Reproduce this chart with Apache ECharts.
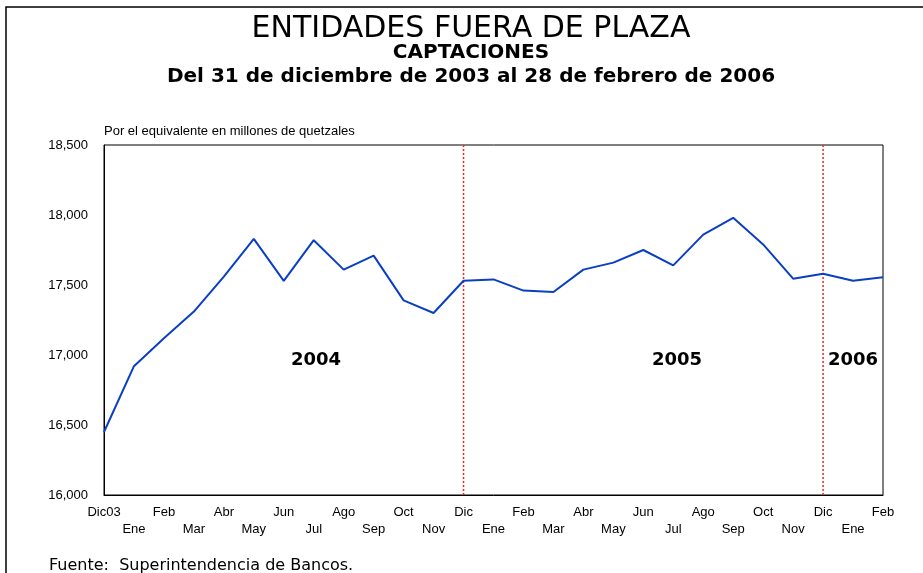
<!DOCTYPE html>
<html>
<head>
<meta charset="utf-8">
<script src="https://cdn.jsdelivr.net/npm/echarts@6/dist/echarts.min.js"></script>
<style>
  html, body { margin: 0; padding: 0; background: #fff; }
  #chart { width: 923px; height: 573px; }
</style>
</head>
<body>
<div id="chart"></div>
<script>
// meses, Dic03 .. Feb06
var meses = ["Dic03", "Ene", "Feb", "Mar", "Abr", "May", "Jun", "Jul", "Ago", "Sep", "Oct", "Nov",
  "Dic", "Ene", "Feb", "Mar", "Abr", "May", "Jun", "Jul", "Ago", "Sep", "Oct", "Nov",
  "Dic", "Ene", "Feb"];
// captaciones, millones de quetzales
var captaciones = [16450, 16920, 17120, 17310, 17560, 17830, 17530, 17820, 17610, 17710, 17390, 17300,
  17530, 17540, 17460, 17450, 17610, 17660, 17750, 17640, 17860, 17980, 17790, 17545,
  17580, 17530, 17555];
// lineas de cambio de año (indice de categoria)
var cortesAnio = [12, 24];
var anios = ["2004", "2005", "2006"];
var ejeY = [16000, 18500, 500];

var fuente = '"Liberation Sans Narrow", "Liberation Sans", Arial, sans-serif';
var chart = echarts.init(document.getElementById("chart"));

// lineas rojas punteadas de cambio de año
var seriesCortes = cortesAnio.map(function (i) {
  return {
    type: "line",
    data: [[i, ejeY[0]], [i, ejeY[1]]],
    symbol: "none",
    silent: true,
    z: 1,
    lineStyle: { color: "#ff2020", type: [2, 2], width: 1.5 }
  };
});

chart.setOption({
  animation: false,
  textStyle: { fontFamily: fuente, color: "#000" },
  grid: {
    left: 104, right: 40, top: 145, bottom: 78,
    show: true, borderColor: "#000", borderWidth: 1
  },
  xAxis: {
    type: "category",
    data: meses,
    boundaryGap: false,
    axisLine: { lineStyle: { color: "#000" } },
    axisTick: { show: false },
    axisLabel: {
      interval: 0,
      color: "#000",
      fontSize: 13,
      margin: 9,
      lineHeight: 17,
      formatter: function (v, i) { return i % 2 ? "\n" + v : v; }
    }
  },
  yAxis: {
    type: "value",
    min: ejeY[0], max: ejeY[1], interval: ejeY[2],
    axisLine: { show: true, lineStyle: { color: "#000" } },
    axisTick: { show: false },
    splitLine: { show: false },
    axisLabel: {
      color: "#000", fontSize: 13, margin: 16,
      formatter: function (v) { return v.toLocaleString("en-US"); }
    }
  },
  series: [
    {
      type: "line",
      data: captaciones,
      symbol: "none",
      lineStyle: { color: "#0a3fc4", width: 2 },
      z: 3
    }
  ].concat(seriesCortes),
  graphic: [
    { type: "rect", shape: { x: 6, y: 7, width: 940, height: 600 },
      style: { fill: null, stroke: "#000", lineWidth: 1.5 } },
    { type: "text", x: 471, y: 29,
      style: { text: "ENTIDADES FUERA DE PLAZA", font: "30px DejaVu Sans", fill: "#000", align: "center", verticalAlign: "middle" } },
    { type: "text", x: 471, y: 53,
      style: { text: "CAPTACIONES", font: "bold 20px DejaVu Sans", fill: "#000", align: "center", verticalAlign: "middle" } },
    { type: "text", x: 471, y: 77,
      style: { text: "Del 31 de diciembre de 2003 al 28 de febrero de 2006", font: "bold 20px DejaVu Sans", fill: "#000", align: "center", verticalAlign: "middle" } },
    { type: "text", x: 104, y: 131,
      style: { text: "Por el equivalente en millones de quetzales", font: "13px " + fuente, fill: "#000", verticalAlign: "middle" } },
    { type: "text", x: 49, y: 566,
      style: { text: "Fuente:  Superintendencia de Bancos.", font: "16px DejaVu Sans", fill: "#000", verticalAlign: "middle" } },
    { type: "text", x: 316, y: 360,
      style: { text: anios[0], font: "bold 18px DejaVu Sans", fill: "#000", align: "center", verticalAlign: "middle" } },
    { type: "text", x: 677, y: 360,
      style: { text: anios[1], font: "bold 18px DejaVu Sans", fill: "#000", align: "center", verticalAlign: "middle" } },
    { type: "text", x: 853, y: 360,
      style: { text: anios[2], font: "bold 18px DejaVu Sans", fill: "#000", align: "center", verticalAlign: "middle" } }
  ]
});
</script>
</body>
</html>
